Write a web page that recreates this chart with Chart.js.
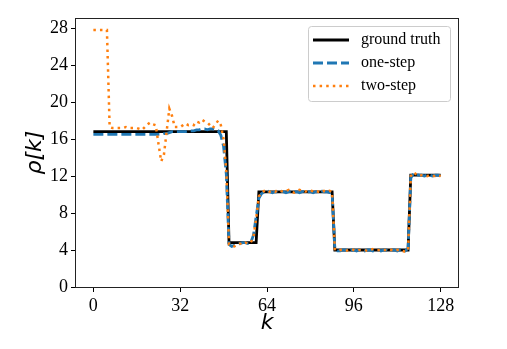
<!DOCTYPE html>
<html>
<head>
<meta charset="utf-8">
<script src="https://cdn.jsdelivr.net/npm/chart.js@4.4.1/dist/chart.umd.min.js"></script>
<style>
  html, body { margin: 0; padding: 0; background: #fff; }
</style>
</head>
<body>
<canvas id="rhoChart" width="507" height="349"></canvas>
<script>
// sample index k
const kValues = [
  0, 1, 2, 3, 4, 5, 6, 7, 8, 9,
  10, 11, 12, 13, 14, 15, 16, 17, 18, 19,
  20, 21, 22, 23, 24, 25, 26, 27, 28, 29,
  30, 31, 32, 33, 34, 35, 36, 37, 38, 39,
  40, 41, 42, 43, 44, 45, 46, 47, 48, 49,
  50, 51, 52, 53, 54, 55, 56, 57, 58, 59,
  60, 61, 62, 63, 64, 65, 66, 67, 68, 69,
  70, 71, 72, 73, 74, 75, 76, 77, 78, 79,
  80, 81, 82, 83, 84, 85, 86, 87, 88, 89,
  90, 91, 92, 93, 94, 95, 96, 97, 98, 99,
  100, 101, 102, 103, 104, 105, 106, 107, 108, 109,
  110, 111, 112, 113, 114, 115, 116, 117, 118, 119,
  120, 121, 122, 123, 124, 125, 126, 127, 128
];

const groundTruth = [
  16.8, 16.8, 16.8, 16.8, 16.8, 16.8, 16.8, 16.8, 16.8, 16.8,
  16.8, 16.8, 16.8, 16.8, 16.8, 16.8, 16.8, 16.8, 16.8, 16.8,
  16.8, 16.8, 16.8, 16.8, 16.8, 16.8, 16.8, 16.8, 16.8, 16.8,
  16.8, 16.8, 16.8, 16.8, 16.8, 16.8, 16.8, 16.8, 16.8, 16.8,
  16.8, 16.8, 16.8, 16.8, 16.8, 16.8, 16.8, 16.8, 16.8, 16.8,
  4.8, 4.8, 4.8, 4.8, 4.8, 4.8, 4.8, 4.8, 4.8, 4.8,
  4.8, 10.3, 10.3, 10.3, 10.3, 10.3, 10.3, 10.3, 10.3, 10.3,
  10.3, 10.3, 10.3, 10.3, 10.3, 10.3, 10.3, 10.3, 10.3, 10.3,
  10.3, 10.3, 10.3, 10.3, 10.3, 10.3, 10.3, 10.3, 10.3, 4.0,
  4.0, 4.0, 4.0, 4.0, 4.0, 4.0, 4.0, 4.0, 4.0, 4.0,
  4.0, 4.0, 4.0, 4.0, 4.0, 4.0, 4.0, 4.0, 4.0, 4.0,
  4.0, 4.0, 4.0, 4.0, 4.0, 4.0, 4.0, 12.1, 12.1, 12.1,
  12.1, 12.1, 12.1, 12.1, 12.1, 12.1, 12.1, 12.1, 12.1
];

const oneStep = [
  16.5, 16.5, 16.5, 16.5, 16.5, 16.5, 16.5, 16.5, 16.5, 16.5,
  16.5, 16.5, 16.5, 16.5, 16.5, 16.5, 16.5, 16.5, 16.5, 16.5,
  16.5, 16.5, 16.5, 16.5, 16.5, 16.5, 16.6, 16.6, 16.7, 16.8,
  16.8, 16.8, 16.8, 16.8, 16.8, 16.9, 16.9, 16.9, 17.0, 17.0,
  17.1, 17.1, 17.0, 17.1, 17.1, 17.0, 16.9, 16.4, 15.2, 12.2,
  4.6, 4.4, 4.5, 4.6, 4.7, 4.8, 4.8, 4.7, 4.8, 5.6,
  7.6, 9.6, 10.1, 10.3, 10.4, 10.3, 10.2, 10.3, 10.3, 10.4,
  10.3, 10.2, 10.3, 10.4, 10.3, 10.3, 10.2, 10.3, 10.4, 10.3,
  10.3, 10.2, 10.3, 10.3, 10.4, 10.3, 10.3, 10.2, 10.2, 4.2,
  3.9, 3.9, 4.0, 4.0, 3.9, 4.0, 4.0, 3.9, 4.0, 4.0,
  3.9, 4.0, 4.0, 3.9, 4.0, 4.0, 3.9, 4.0, 4.0, 3.9,
  4.0, 4.0, 3.9, 4.0, 4.0, 3.9, 4.2, 11.8, 12.3, 12.2,
  12.1, 12.1, 12.0, 12.1, 12.1, 12.0, 12.1, 12.1, 12.0
];

const twoStep = [
  27.8, 27.8, 27.8, 27.8, 27.8, 27.8, 17.3, 17.2, 17.2, 17.2,
  17.2, 17.2, 17.3, 17.2, 17.2, 17.2, 17.2, 17.1, 17.0, 17.3,
  17.6, 17.8, 17.6, 17.5, 15.5, 13.6, 14.3, 16.8, 19.3, 18.5,
  17.3, 17.3, 17.3, 17.5, 17.7, 17.5, 17.6, 17.5, 17.9, 17.8,
  18.1, 17.9, 17.8, 17.5, 17.2, 17.6, 18.0, 17.5, 16.0, 12.5,
  4.6, 4.5, 4.4, 4.6, 4.7, 4.6, 4.8, 4.7, 4.8, 5.4,
  7.4, 9.8, 10.2, 10.4, 10.5, 10.3, 10.4, 10.3, 10.5, 10.4,
  10.3, 10.4, 10.5, 10.3, 10.2, 10.4, 10.5, 10.4, 10.3, 10.4,
  10.5, 10.3, 10.4, 10.3, 10.2, 10.4, 10.3, 10.4, 10.3, 4.1,
  3.9, 4.0, 4.0, 3.9, 4.0, 4.1, 4.0, 3.9, 4.0, 4.0,
  4.0, 3.9, 4.0, 4.1, 4.0, 4.0, 3.9, 4.0, 4.0, 4.1,
  4.0, 3.9, 4.0, 4.0, 3.9, 3.8, 4.0, 12.0, 12.4, 12.2,
  12.0, 12.1, 12.1, 12.0, 12.1, 12.0, 12.0, 12.1, 12.0
];

const xTicks = [0, 32, 64, 96, 128];
const yTicks = [0, 4, 8, 12, 16, 20, 24, 28];

const serif = 'Liberation Serif';

// little canvas with the line sample, used as the legend point style
function lineSample(color, width, dash) {
  const c = document.createElement('canvas');
  c.width = 40;
  c.height = 6;
  const g = c.getContext('2d');
  g.strokeStyle = color;
  g.lineWidth = width;
  g.lineCap = 'butt';
  g.setLineDash(dash);
  g.beginPath();
  g.moveTo(0, 3);
  g.lineTo(36, 3);
  g.stroke();
  return c;
}

// box round the plot area and the legend, like matplotlib spines / legend frame
const framePlugin = {
  id: 'frame',
  afterLayout(chart) {
    const lg = chart.legend;
    const area = chart.chartArea;
    lg.left = area.right - 152;
    lg.right = lg.left + lg.width;
    lg.top = area.top + 7;
    lg.bottom = lg.top + 90;
  },
  beforeDraw(chart) {
    const lg = chart.legend;
    const ctx = chart.ctx;
    ctx.save();
    ctx.fillStyle = 'rgba(255,255,255,0.8)';
    ctx.strokeStyle = '#cccccc';
    ctx.lineWidth = 1;
    ctx.beginPath();
    ctx.roundRect(lg.left + 2.5, lg.top + 1.5, 142, 75, 3);
    ctx.fill();
    ctx.stroke();
    ctx.restore();
  },
  afterDraw(chart) {
    const {left, top, right, bottom} = chart.chartArea;
    const ctx = chart.ctx;
    ctx.save();
    ctx.strokeStyle = '#222';
    ctx.lineWidth = 1;
    ctx.strokeRect(Math.round(left) - 0.5, Math.round(top) + 0.5,
                   Math.round(right - left) + 1, Math.round(bottom - top));
    ctx.restore();
  }
};

new Chart(document.getElementById('rhoChart').getContext('2d'), {
  type: 'line',
  data: {
    labels: kValues,
    datasets: [
      {
        label: 'ground truth',
        data: groundTruth,
        borderColor: '#000000',
        backgroundColor: '#000000',
        borderWidth: 2.8,
        pointRadius: 0,
        pointStyle: lineSample('#000000', 2.8, []),
        tension: 0,
        order: 3
      },
      {
        label: 'one-step',
        data: oneStep,
        borderColor: '#1f77b4',
        backgroundColor: '#1f77b4',
        borderWidth: 2.8,
        borderDash: [10, 4],
        pointRadius: 0,
        pointStyle: lineSample('#1f77b4', 2.8, [10, 4]),
        tension: 0,
        order: 2
      },
      {
        label: 'two-step',
        data: twoStep,
        borderColor: '#ff7f0e',
        backgroundColor: '#ff7f0e',
        borderWidth: 2.5,
        borderDash: [2.5, 4.1],
        pointRadius: 0,
        pointStyle: lineSample('#ff7f0e', 2.5, [2.5, 4.1]),
        tension: 0,
        order: 1
      }
    ]
  },
  options: {
    responsive: false,
    animation: false,
    devicePixelRatio: 1,
    layout: {
      padding: { top: 18, right: 49, left: 0, bottom: 0 }
    },
    plugins: {
      legend: {
        position: 'chartArea',
        align: 'start',
        reverse: true,
        labels: {
          usePointStyle: true,
          pointStyleWidth: 40,
          padding: 7,
          color: '#000',
          font: { family: serif, size: 16 }
        }
      },
      tooltip: { enabled: false }
    },
    scales: {
      x: {
        type: 'linear',
        min: -6.4,
        max: 134.4,
        afterBuildTicks: (axis) => {
          axis.ticks = xTicks.map(v => ({ value: v }));
        },
        afterFit: (scale) => { scale.height = 62; },
        border: { display: false },
        grid: {
          drawOnChartArea: false,
          drawTicks: true,
          tickLength: 5,
          tickColor: '#000'
        },
        ticks: {
          autoSkip: false,
          maxRotation: 0,
          padding: 3,
          color: '#000',
          font: { family: serif, size: 18 }
        },
        title: {
          display: true,
          text: 'k',
          color: '#000',
          font: { family: 'DejaVu Sans', style: 'italic', size: 22 },
          padding: 13
        }
      },
      y: {
        min: 0,
        max: 29.1,
        afterBuildTicks: (axis) => {
          axis.ticks = yTicks.map(v => ({ value: v }));
        },
        afterFit: (scale) => { scale.width = 76; },
        border: { display: false },
        grid: {
          drawOnChartArea: false,
          drawTicks: true,
          tickLength: 5,
          tickColor: '#000'
        },
        ticks: {
          padding: 3,
          color: '#000',
          font: { family: serif, size: 18 }
        },
        title: {
          display: true,
          text: 'ρ[k]',
          color: '#000',
          font: { family: 'DejaVu Sans', style: 'italic', size: 22 },
          padding: { top: 22, bottom: 0 }
        }
      }
    }
  },
  plugins: [framePlugin]
});
</script>
</body>
</html>
